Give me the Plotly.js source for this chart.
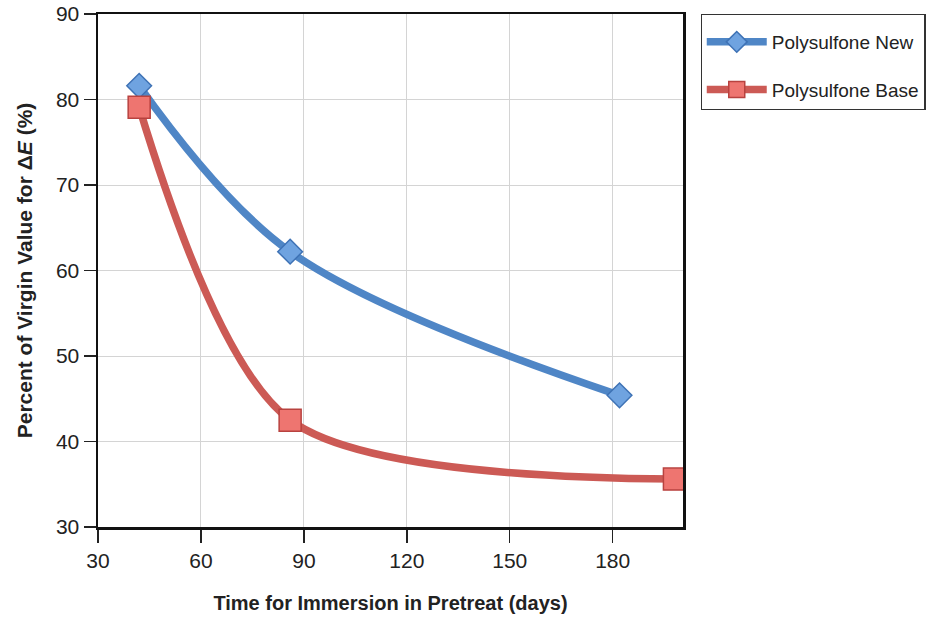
<!DOCTYPE html>
<html><head><meta charset="utf-8">
<script src="https://cdn.plot.ly/plotly-3.0.1.min.js"></script>
<style>body{margin:0;background:#fff}#chart{width:938px;height:626px}</style>
</head><body><div id="chart"></div>
<script>
const newDays = [42, 86, 182];
const newValues = [81.6, 62.2, 45.4];
const baseDays = [42, 86, 198];
const baseValues = [79.1, 42.5, 35.6];
const xTicks = [30, 60, 90, 120, 150, 180];
const yTicks = [30, 40, 50, 60, 70, 80, 90];
const seriesNames = ['Polysulfone New', 'Polysulfone Base'];

const FONT = '"Liberation Sans Narrow", "Arial Narrow", "Liberation Sans", Arial, sans-serif';

const traces = [
  {x: newDays, y: newValues, name: seriesNames[0], legendgroup: 'a', mode: 'lines+markers',
   line: {color: '#4F86C6', width: 7.5, shape: 'spline', smoothing: 1},
   marker: {symbol: 'diamond', size: 19, color: '#6FA3E0', line: {color: '#3E72B5', width: 1.5}}},
  {x: baseDays, y: baseValues, name: seriesNames[1], legendgroup: 'b', mode: 'lines+markers',
   line: {color: '#CC5A55', width: 7.5, shape: 'spline', smoothing: 0.85},
   marker: {symbol: 'square', size: 22, color: '#EE7570', line: {color: '#B8423F', width: 1.5}}}
];

const layout = {
  width: 938, height: 626,
  margin: {l: 98, r: 253, t: 14, b: 99},
  paper_bgcolor: '#fff', plot_bgcolor: '#fff',
  font: {family: FONT, size: 20, color: '#222'},
  showlegend: true,
  legend: {x: 1.03, y: 1, xanchor: 'left', yanchor: 'top',
    bordercolor: '#333', borderwidth: 1.2, bgcolor: '#fff',
    font: {family: FONT, size: 19, color: '#222'},
    title: {text: ' ', font: {size: 6}},
    itemwidth: 60, tracegroupgap: 20},
  xaxis: {range: [30, 200.5], tickvals: xTicks, ticktext: xTicks.map(String),
    showgrid: true, gridcolor: '#d4d4d4', gridwidth: 1,
    showline: true, linecolor: '#111', linewidth: 2.5, mirror: true,
    ticks: 'outside', ticklen: 13, tickcolor: '#222', tickwidth: 1.5,
    zeroline: false, tickfont: {family: FONT, size: 21, color: '#222'},
    title: {text: '<b>Time for Immersion in Pretreat (days)</b>', font: {family: FONT, size: 20, color: '#222'}, standoff: 26}},
  yaxis: {range: [30, 90], tickvals: yTicks, ticktext: yTicks.map(String),
    showgrid: true, gridcolor: '#d4d4d4', gridwidth: 1,
    showline: true, linecolor: '#111', linewidth: 2.5, mirror: true,
    ticks: 'outside', ticklen: 12, tickcolor: '#222', tickwidth: 1.5,
    zeroline: false, tickfont: {family: FONT, size: 21, color: '#222'},
    title: {text: '<b>Percent of Virgin Value for Δ<i>E</i> (%)</b>', font: {family: FONT, size: 21, color: '#222'}, standoff: 18}}
};

Plotly.newPlot('chart', traces, layout, {displayModeBar: false, staticPlot: true});
</script></body></html>
